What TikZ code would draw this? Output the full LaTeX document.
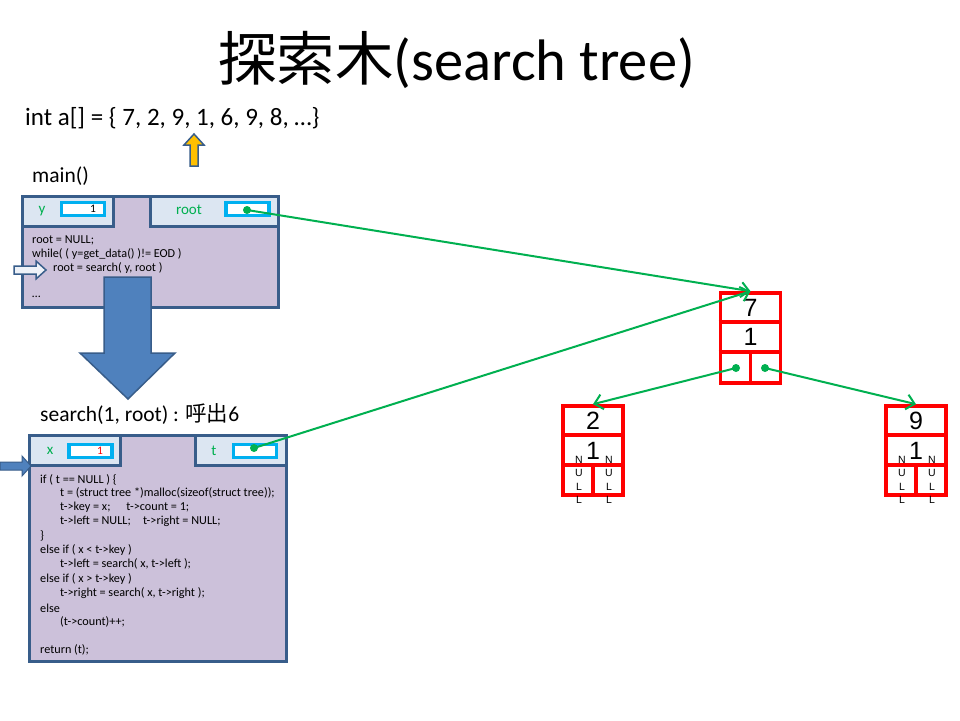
\documentclass[tikz,border=0pt]{standalone}
\usepackage{fontspec}
\setmainfont{Carlito}
\newfontfamily\cjk{Noto Sans CJK JP}
\newfontfamily\arialf{Liberation Sans}
\usetikzlibrary{arrows.meta}
\definecolor{frameblue}{HTML}{385D8A}
\definecolor{lav}{HTML}{CCC1DA}
\definecolor{tabfill}{HTML}{DCE6F2}
\definecolor{cyanb}{HTML}{00B0F0}
\definecolor{grn}{HTML}{00B050}
\definecolor{arrblue}{HTML}{4F81BD}
\definecolor{orng}{HTML}{FFC000}
\definecolor{hollow}{HTML}{EEF2F8}
\begin{document}
\begin{tikzpicture}[x=1pt,y=-1pt,
  frame/.style={draw=frameblue, line width=3pt, fill=lav},
  tab/.style={draw=frameblue, line width=3pt, fill=tabfill},
  valbox/.style={draw=cyanb, line width=3.5pt, fill=white, minimum width=43pt, minimum height=13pt, inner sep=0pt},
  code/.style={font=\fontsize{12.2}{14}\selectfont, anchor=west, inner sep=0pt},
  lbl/.style={text=grn, font=\fontsize{15}{17}\selectfont, inner sep=0pt},
  dot/.style={circle, fill=grn, inner sep=0pt, minimum size=8pt},
  ptr/.style={draw=grn, line width=2pt, -{Straight Barb[length=8pt,width=15pt]}},
  tnode/.style={draw=red, line width=3.6pt, minimum width=60pt, minimum height=89pt, inner sep=0pt},
  tline/.style={draw=red, line width=3.6pt},
  tnum/.style={font=\arialf\fontsize{25}{27}\selectfont, inner sep=0pt},
  nullt/.style={font=\arialf\fontsize{10.5}{13.3}\selectfont, align=center, inner sep=0pt},
  big/.style={anchor=west, inner sep=0pt, font=\fontsize{21.5}{24}\selectfont},
  barrow/.style={draw=frameblue, line width=1.5pt, fill=arrblue}
]
\useasboundingbox (0,0) rectangle (960,720);
\fill[white] (0,0) rectangle (960,720);

% title
\node[inner sep=0pt, font=\fontsize{58.5}{61}\selectfont] (title) at (456.5,60) {{\cjk 探索木}(search tree)};
\node[big, font=\fontsize{25}{28}\selectfont] (arr) at (25,118) {int a[] = \{ 7, 2, 9, 1, 6, 9, 8, …\}};
% orange arrow
\draw[draw=frameblue, line width=1.5pt, fill=orng] (190,166) -- (190,145) -- (184,145) -- (194,134) -- (204,145) -- (198,145) -- (198,166) -- cycle;

% main frame
\node[big] (mainlbl) at (32,176) {main()};
\draw[frame] (22,196) rectangle (278,307);
\draw[tab] (22,196) rectangle (113,226);
\draw[tab] (150,196) rectangle (278,226);
\node[lbl] (ylbl) at (42,211) {y};
\node[lbl] (rootlbl) at (189,210) {root};
\node[valbox] (ybox) at (83,209) {};
\node[inner sep=0pt, font=\fontsize{11.5}{13}\selectfont] (yval) at (93,209) {1};
\node[valbox] (rootbox) at (247.5,209) {};
\node[dot] (rootdot) at (247,210) {};
\node[code] (m1) at (32,240) {root = NULL;};
\node[code] (m2) at (32,254) {while( ( y=get\_data() )!= EOD )};
\node[code] (m3) at (53,268) {root = search( y, root )};
\node[code] (m4) at (32,297) {…};
% hollow arrow
\draw[draw=frameblue, line width=1.5pt, fill=hollow] (14,266) -- (36,266) -- (36,261) -- (46,270) -- (36,279) -- (36,274) -- (14,274) -- cycle;

% big down arrow
\draw[barrow] (104,277) -- (151,277) -- (151,353) -- (175,353) -- (128,399) -- (80,353) -- (104,353) -- cycle;

% search frame
\node[big] (searchlbl) at (40,414) {search(1, root) : {\cjk 呼出}6};
\draw[frame] (29,435) rectangle (286,661);
\draw[tab] (29,435) rectangle (120,465);
\draw[tab] (195,435) rectangle (286,465);
\node[lbl] (xlbl) at (50,451) {x};
\node[lbl] (tlbl) at (214,451) {t};
\node[valbox] (xbox) at (90.5,451) {};
\node[inner sep=0pt, text=red, font=\fontsize{11.5}{13}\selectfont] (xval) at (100,451) {1};
\node[valbox] (tbox) at (255,451) {};
\node[dot] (tdot) at (254,448) {};
\node[code] (s1) at (40,480) {if ( t == NULL ) \{};
\node[code] (s2) at (60,493) {t = (struct tree *)malloc(sizeof(struct tree));};
\node[code] (s3) at (60,507) {t->key = x;\hspace{1.3em}t->count = 1;};
\node[code] (s4) at (60,521) {t->left = NULL;\hspace{1em}t->right = NULL;};
\node[code] (s5) at (40,536) {\}};
\node[code] (s6) at (40,550) {else if ( x < t->key )};
\node[code] (s7) at (60,564) {t->left = search( x, t->left );};
\node[code] (s8) at (40,579) {else if ( x > t->key )};
\node[code] (s9) at (60,593) {t->right = search( x, t->right );};
\node[code] (s10) at (40,608) {else};
\node[code] (s11) at (60,622) {(t->count)++;};
\node[code] (s12) at (40,650) {return (t);};
% blue arrow into search
\draw[barrow, line width=1pt] (0,462) -- (22,462) -- (22,456) -- (31,466) -- (22,476) -- (22,470) -- (0,470) -- cycle;

% tree node 7
\node[tnode, minimum height=90pt] (n7) at (750.5,338) {};
\draw[tline] (n7.west |- 0,322) -- (n7.east |- 0,322);
\draw[tline] (n7.west |- 0,352) -- (n7.east |- 0,352);
\draw[tline] (750.5,352) -- (n7.south);
\node[tnum] (k7) at (750.5,308) {7};
\node[tnum] (c7) at (750.5,337) {1};
\node[dot] (ldot) at (736,368) {};
\node[dot] (rdot) at (765,368) {};

% tree node 2
\node[tnode] (n2) at (593,450.5) {};
\draw[tline] (n2.west |- 0,435) -- (n2.east |- 0,435);
\draw[tline] (n2.west |- 0,465) -- (n2.east |- 0,465);
\draw[tline] (593,465) -- (n2.south);
\node[tnum] (k2) at (593,421) {2};
\node[tnum] (c2) at (593,451) {1};
\node[nullt] (n2l) at (579,480) {N\\U\\L\\L};
\node[nullt] (n2r) at (609,480) {N\\U\\L\\L};

% tree node 9
\node[tnode] (n9) at (916,450.5) {};
\draw[tline] (n9.west |- 0,435) -- (n9.east |- 0,435);
\draw[tline] (n9.west |- 0,465) -- (n9.east |- 0,465);
\draw[tline] (916,465) -- (n9.south);
\node[tnum] (k9) at (916,421) {9};
\node[tnum] (c9) at (916,451) {1};
\node[nullt] (n9l) at (902,480) {N\\U\\L\\L};
\node[nullt] (n9r) at (932,480) {N\\U\\L\\L};

% pointers
\draw[ptr] (rootdot.center) -- (n7.north);
\draw[ptr] (tdot.center) -- (n7.north);
\draw[ptr] (ldot.center) -- (n2.north);
\draw[ptr] (rdot.center) -- (n9.north);
\end{tikzpicture}
\end{document}
